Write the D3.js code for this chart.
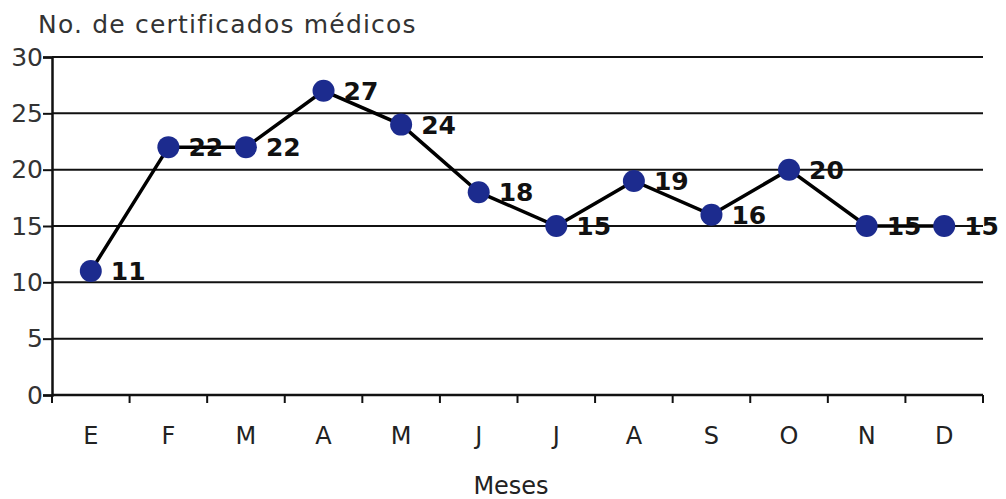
<!DOCTYPE html>
<html>
<head>
<meta charset="utf-8">
<script src="https://d3js.org/d3.v7.min.js"></script>
<style>
  body { margin: 0; background: #fff; }
  text { font-family: "DejaVu Sans", Verdana, sans-serif; }
</style>
</head>
<body>
<svg width="1006" height="499"></svg>
<script>
const months = ['E', 'F', 'M', 'A', 'M', 'J', 'J', 'A', 'S', 'O', 'N', 'D'];
const certificados = [11, 22, 22, 27, 24, 18, 15, 19, 16, 20, 15, 15];
const yTicks = [0, 5, 10, 15, 20, 25, 30];

const svg = d3.select('svg');
const plotLeft = 52, plotRight = 983, plotTop = 57, plotBottom = 395;

const idx = months.map((m, i) => i);
const x = d3.scaleBand().domain(idx).range([plotLeft, plotRight]);
const y = d3.scaleLinear().domain([0, 30]).range([plotBottom, plotTop]);

// horizontal grid lines
svg.append('g')
  .selectAll('line')
  .data(yTicks)
  .join('line')
  .attr('x1', plotLeft).attr('x2', plotRight)
  .attr('y1', d => y(d)).attr('y2', d => y(d))
  .attr('stroke', '#111').attr('stroke-width', 2);

// y axis
const yAxis = svg.append('g')
  .attr('transform', `translate(${plotLeft},0)`)
  .call(d3.axisLeft(y).tickValues(yTicks).tickSize(9).tickPadding(0));
yAxis.select('.domain').attr('stroke', '#111').attr('stroke-width', 2.5);
yAxis.selectAll('.tick line').attr('stroke', '#111').attr('stroke-width', 2);
yAxis.selectAll('.tick text')
  .attr('font-size', 25).attr('fill', '#333')
  .attr('font-family', '"DejaVu Sans", Verdana, sans-serif');

// x axis with ticks on band edges
const xAxis = svg.append('g').attr('transform', `translate(0,${plotBottom})`);
xAxis.append('line')
  .attr('x1', plotLeft).attr('x2', plotRight)
  .attr('stroke', '#111').attr('stroke-width', 2.5);
xAxis.selectAll('line.tk')
  .data(idx.map(i => x(i) + x.bandwidth()).concat([plotLeft]))
  .join('line')
  .attr('class', 'tk')
  .attr('x1', d => d).attr('x2', d => d)
  .attr('y1', 0).attr('y2', 8)
  .attr('stroke', '#111').attr('stroke-width', 2);
xAxis.selectAll('text')
  .data(idx)
  .join('text')
  .attr('x', d => x(d) + x.bandwidth() / 2)
  .attr('y', 49)
  .attr('text-anchor', 'middle')
  .attr('font-size', 24)
  .attr('fill', '#222')
  .text(d => months[d]);

const cx = i => x(i) + x.bandwidth() / 2;

// line
svg.append('path')
  .datum(certificados)
  .attr('fill', 'none')
  .attr('stroke', '#000')
  .attr('stroke-width', 3.5)
  .attr('d', d3.line().x((d, i) => cx(i)).y(d => y(d)));

// points
svg.append('g')
  .selectAll('circle')
  .data(certificados)
  .join('circle')
  .attr('cx', (d, i) => cx(i))
  .attr('cy', d => y(d))
  .attr('r', 11)
  .attr('fill', '#1c2b8e');

// value labels
svg.append('g')
  .selectAll('text')
  .data(certificados)
  .join('text')
  .attr('x', (d, i) => cx(i) + 20)
  .attr('y', d => y(d) + 9)
  .attr('font-size', 25)
  .attr('font-weight', 'bold')
  .attr('fill', '#111')
  .text(d => d);

// titles
svg.append('text')
  .attr('x', 38).attr('y', 33)
  .attr('font-size', 25)
  .attr('letter-spacing', 1.2)
  .attr('fill', '#333')
  .text('No. de certificados médicos');

svg.append('text')
  .attr('x', 511).attr('y', 494)
  .attr('text-anchor', 'middle')
  .attr('font-size', 24)
  .attr('fill', '#222')
  .text('Meses');
</script>
</body>
</html>
